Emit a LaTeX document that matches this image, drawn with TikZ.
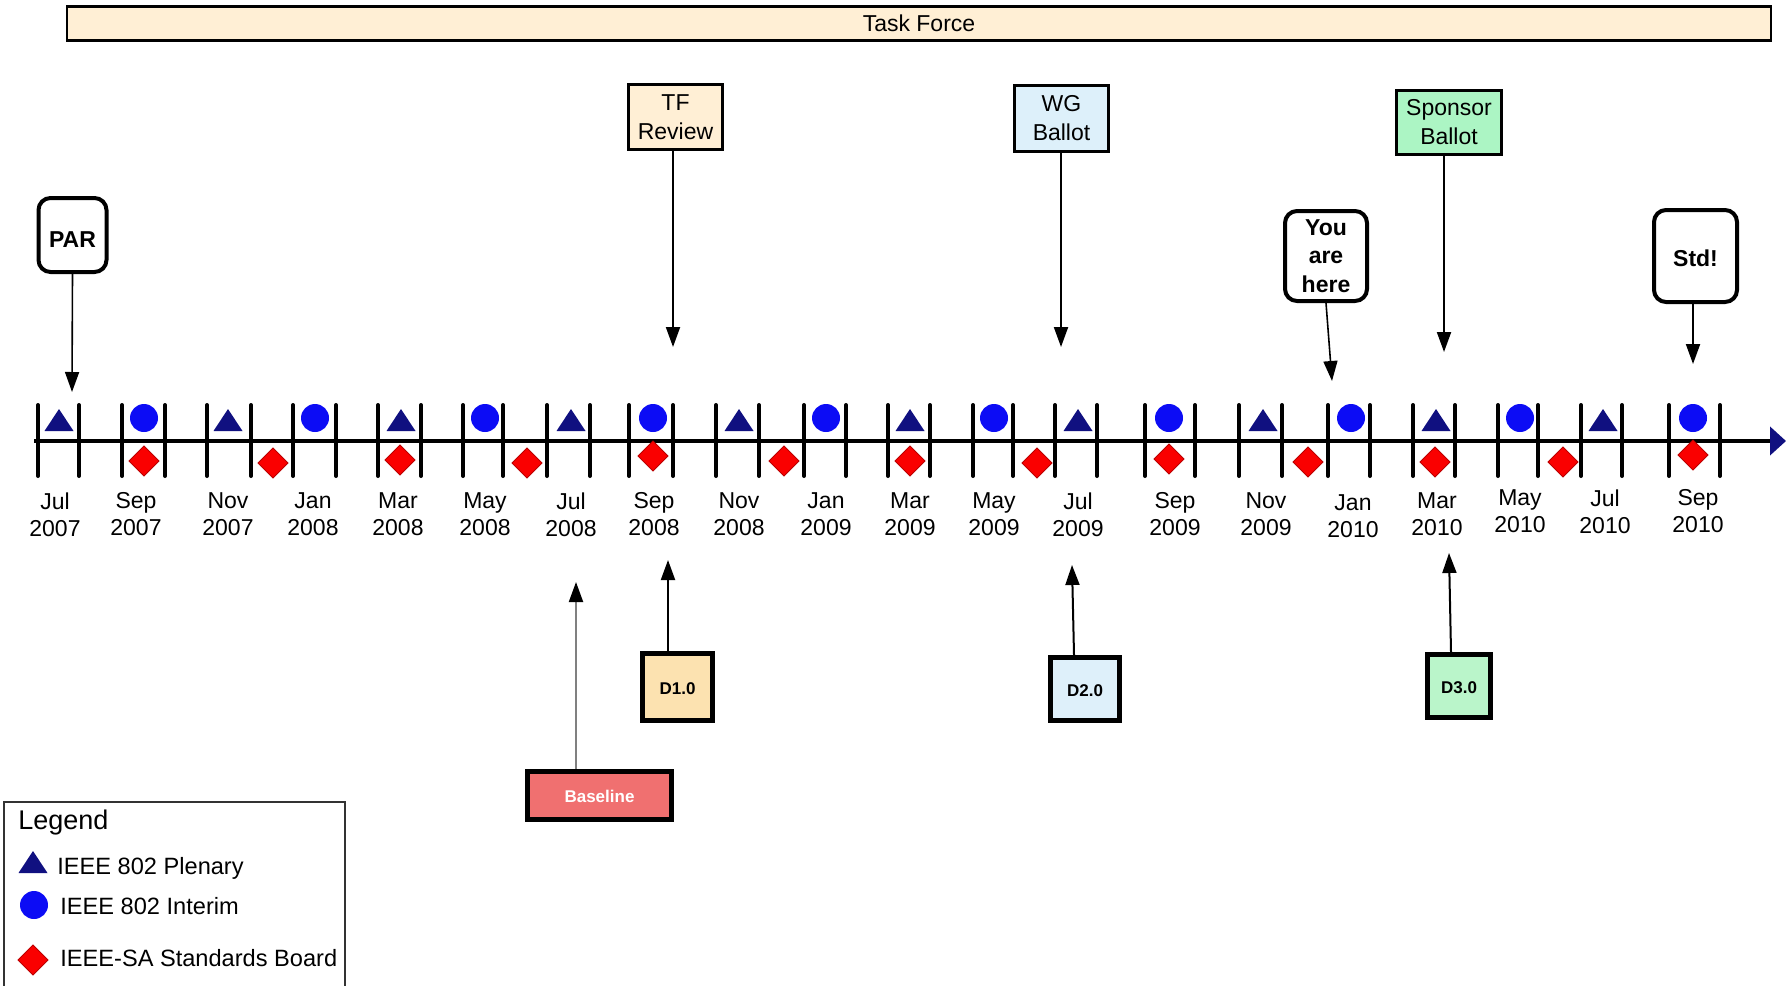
\documentclass[tikz,border=0pt]{standalone}
\usepackage{fontspec}
\setmainfont{Liberation Sans}
\usepackage{tikz}
\usetikzlibrary{positioning,calc,arrows.meta}

\definecolor{plenary}{RGB}{16,16,128}
\definecolor{interim}{RGB}{12,12,245}
\definecolor{board}{RGB}{250,0,0}
\definecolor{tfpeach}{RGB}{255,239,213}
\definecolor{wgblue}{RGB}{221,240,250}
\definecolor{spgreen}{RGB}{172,245,196}
\definecolor{dpeach}{RGB}{252,226,176}
\definecolor{dblue}{RGB}{222,240,250}
\definecolor{dgreen}{RGB}{186,245,202}
\definecolor{basered}{RGB}{240,112,112}

\begin{document}
\begin{tikzpicture}[x=0.5pt,y=-0.5pt,
		tick/.style={line width=2pt,line cap=round},
		monthlabel/.style={align=center,inner sep=0pt,font=\fontsize{11.5}{13.5}\selectfont},
		topbox/.style={draw=black,line width=1.4pt,align=center,inner sep=0pt,font=\fontsize{11.5}{14.5}\selectfont},
		callout/.style={draw=black,line width=2pt,rounded corners=6pt,fill=white,align=center,inner sep=0pt,font=\bfseries\fontsize{11.5}{14.3}\selectfont},
		draftbox/.style={draw=black,line width=2.5pt,inner sep=0pt,text height=7.6pt,text depth=0pt,font=\bfseries\fontsize{8.5}{10}\selectfont},
		legtext/.style={anchor=west,inner sep=0pt,font=\fontsize{11.8}{13.5}\selectfont},
		ptr/.style={line width=1pt,-{Triangle[length=10pt,width=7pt]}},
		plen/.pic={\fill[plenary] (-14.5,0) -- (14.5,0) -- (0,-22) -- cycle;},
		intr/.pic={\fill[interim] (0,0) circle (7pt);},
		sabd/.pic={\filldraw[fill=board,draw=board!75!black,line width=0.4pt] (0,-15) -- (15,0) -- (0,15) -- (-15,0) -- cycle;}]
		\useasboundingbox (0,0) rectangle (1786,985);
		
		\node[draw=black,line width=1.2pt,fill=tfpeach,minimum width=852pt,minimum height=17pt,inner sep=0pt,font=\fontsize{11.5}{13.5}\selectfont] (tf) at (919,23.5) {Task Force};
		
		% time line
		\coordinate (axl) at (34,441);
		\coordinate (axr) at (1786,441);
		\draw[line width=2pt,-{Triangle[length=8pt,width=14pt,color=plenary]}] (axl) -- (axr);
		
		\foreach \a/\b in {38/79,122/165,207/251,293/336,378/421,463/503,547/590,629/673,716/759,804/846,888/930,973/1013,1055/1097,1145/1195,1239/1282,1328/1370,1413/1455,1498/1538,1581/1622,1669/1720}
		\draw[tick] (\a,405) -- (\a,476) (\b,405) -- (\b,476);
		
		\foreach \x/\y/\m/\yr in {55/514.5/Jul/2007,136/514.5/Sep/2007,228/514.5/Nov/2007,313/514.5/Jan/2008,398/514.5/Mar/2008,485/514.5/May/2008,571/514.5/Jul/2008,654/514.5/Sep/2008,739/514.5/Nov/2008,826/514.5/Jan/2009,910/514.5/Mar/2009,994/514.5/May/2009,1078/514.5/Jul/2009,1175/514.5/Sep/2009,1266/514.5/Nov/2009,1353/516/Jan/2010,1437/514.5/Mar/2010,1520/511.5/May/2010,1605/511.5/Jul/2010,1698/511/Sep/2010}
		\node[monthlabel] (m\m\yr) at (\x,\y) {\m\\\yr};
		
		% meetings
		\foreach \x in {59,228,401,571,739,910,1078,1263,1436,1603}
		\pic at (\x,431) {plen};
		\foreach \x in {144,315,485,653,826,994,1169,1351,1520,1693}
		\pic at (\x,418) {intr};
		\foreach \x/\y in {144/461,273/463,400/460,527/463,653/456,784/461,910/461,1037/463,1169/459,1308/462,1435/462,1563/462,1693/455}
		\pic at (\x,\y) {sabd};
		
		% milestones above
		\node[callout,minimum width=34pt,minimum height=37pt,text height=12pt,text depth=0pt] (par) at (72.5,235) {PAR};
		\coordinate (parTip) at (72,392);
		\draw[ptr,line width=0.8pt] (par.south) -- (parTip);
		
		\node[topbox,fill=tfpeach,minimum width=47pt,minimum height=32.5pt] (tfr) at (675.5,117) {TF\\Review};
		\coordinate (tfrTip) at (673,347);
		\draw[ptr] (tfr.south -| tfrTip) -- (tfrTip);
		
		\node[topbox,fill=wgblue,minimum width=47pt,minimum height=33pt] (wgb) at (1061.5,118.5) {WG\\Ballot};
		\coordinate (wgbTip) at (1061,347);
		\draw[ptr] (wgb.south -| wgbTip) -- (wgbTip);
		
		\node[topbox,fill=spgreen,minimum width=52.5pt,minimum height=32pt] (spb) at (1449,122.5) {Sponsor\\Ballot};
		\coordinate (spbTip) at (1444,352);
		\draw[ptr] (spb.south -| spbTip) -- (spbTip);
		
		\node[callout,minimum width=41pt,minimum height=45pt] (here) at (1326,256) {You\\are\\here};
		\coordinate (hereTip) at (1332,381);
		\draw[ptr,line width=0.8pt] (here.south) -- (hereTip);
		
		\node[callout,minimum width=41.5pt,minimum height=46pt,text height=10.2pt,text depth=0pt] (std) at (1695.5,256) {Std!};
		\coordinate (stdTip) at (1693,364);
		\draw[ptr] (std.south -| stdTip) -- (stdTip);
		
		% drafts below
		\node[draftbox,fill=basered,text=white,minimum width=72pt,minimum height=24pt] (base) at (599.5,795) {Baseline};
		\coordinate (baseTip) at (576,582);
		\draw[ptr,draw=black!50,-{Triangle[length=10pt,width=7pt,color=black]}] (base.north -| baseTip) -- (baseTip);
		
		\node[draftbox,fill=dpeach,minimum width=35pt,minimum height=33.5pt] (d1) at (677.5,687) {D1.0};
		\coordinate (d1Tip) at (668,560);
		\draw[ptr] (d1.north -| d1Tip) -- (d1Tip);
		
		\node[draftbox,fill=dblue,minimum width=34.5pt,minimum height=31.5pt] (d2) at (1085,689) {D2.0};
		\coordinate (d2Tip) at (1072,565);
		\draw[ptr] ($(d2.north)+(-11,0)$) -- (d2Tip);
		
		\node[draftbox,fill=dgreen,minimum width=31.5pt,minimum height=31.5pt] (d3) at (1459,686) {D3.0};
		\coordinate (d3Tip) at (1449,553);
		\draw[ptr] ($(d3.north)+(-8,0)$) -- (d3Tip);
		
		% legend
		\draw[line width=0.6pt,draw=black!80] (4,987) -- (4,802) -- (345,802) -- (345,987);
		\node[legtext,font=\fontsize{13.5}{16}\selectfont] (legT) at (18,823) {Legend};
		\pic at (33,873) {plen};
		\node[legtext] (legPlen) at (57,868) {IEEE 802 Plenary};
		\pic at (34,905) {intr};
		\node[legtext] (legInt) at (60,906) {IEEE 802 Interim};
		\pic at (33,960) {sabd};
		\node[legtext] (legSA) at (60,958) {IEEE-SA Standards Board};
	\end{tikzpicture}
\end{document}
